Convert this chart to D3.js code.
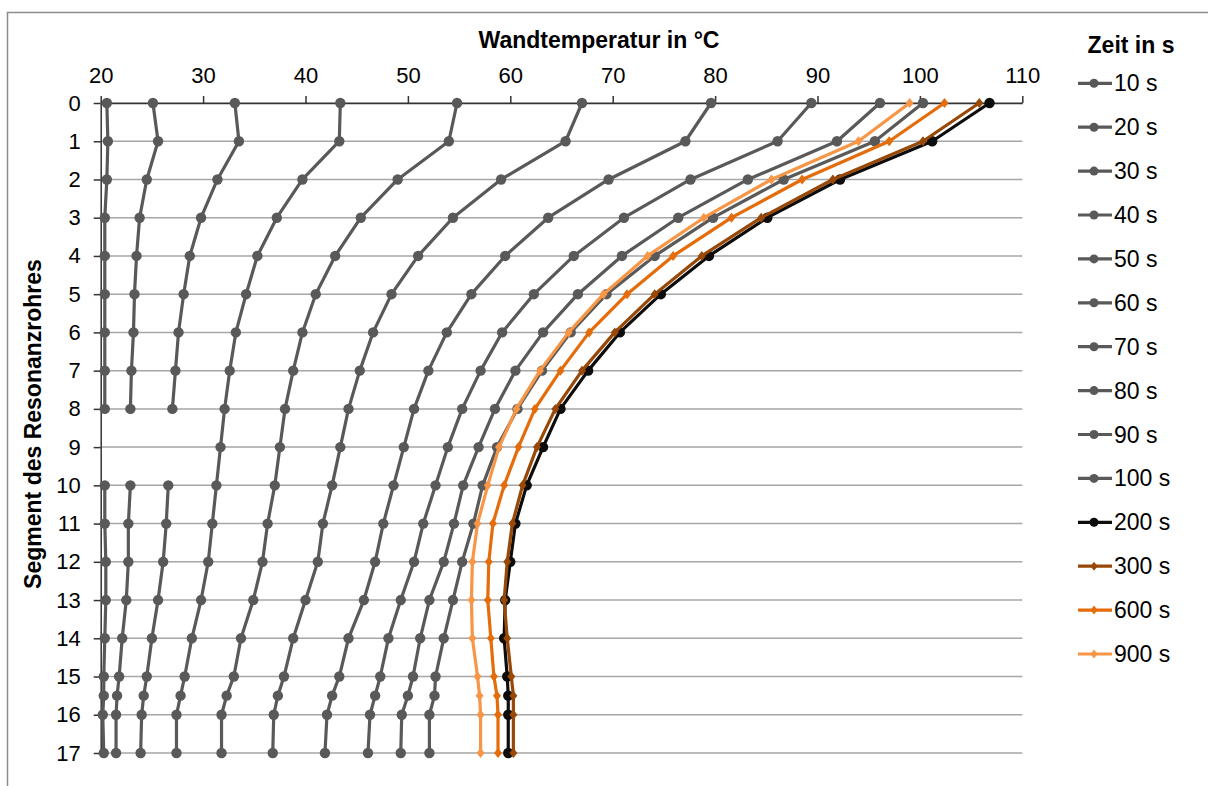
<!DOCTYPE html>
<html>
<head>
<meta charset="utf-8">
<script src="https://cdn.jsdelivr.net/npm/d3@7"></script>
<style>
  html, body { margin: 0; padding: 0; background: #fff; }
  svg { display: block; font-family: "Liberation Sans", Arial, sans-serif; }
</style>
</head>
<body>
<svg id="chart" width="1208" height="786"></svg>
<script>
// Pipe segments (15.5 is an extra measuring point between 15 and 16)
const segments = [0, 1, 2, 3, 4, 5, 6, 7, 8, 9, 10, 11, 12, 13, 14, 15, 15.5, 16, 17];
const segmentTicks = d3.range(0, 18);
const tempTicks = [20, 30, 40, 50, 60, 70, 80, 90, 100, 110];

// Wall temperature in °C per segment (null = no measurement)
const t10  = [20.6, 20.7, 20.6, 20.4, 20.4, 20.4, 20.4, 20.4, 20.4, null, 20.4, 20.4, 20.5, 20.5, 20.4, 20.3, 20.3, 20.2, 20.3];
const t20  = [25.1, 25.6, 24.5, 23.8, 23.5, 23.3, 23.2, 23.0, 22.9, null, 22.9, 22.7, 22.7, 22.5, 22.1, 21.8, 21.6, 21.5, 21.5];
const t30  = [33.1, 33.5, 31.4, 29.8, 28.7, 28.1, 27.6, 27.3, 27.0, null, 26.6, 26.4, 26.1, 25.6, 25.0, 24.5, 24.2, 24.0, 23.9];
const t40  = [43.4, 43.3, 39.7, 37.2, 35.3, 34.2, 33.2, 32.6, 32.1, 31.7, 31.3, 30.9, 30.5, 29.8, 28.9, 28.2, 27.8, 27.4, 27.4];
const t50  = [54.8, 54.0, 49.0, 45.4, 42.9, 41.0, 39.7, 38.8, 38.0, 37.5, 37.0, 36.3, 35.8, 34.9, 33.7, 33.0, 32.3, 31.8, 31.8];
const t60  = [67.0, 65.4, 59.1, 54.4, 51.0, 48.4, 46.6, 45.3, 44.2, 43.4, 42.6, 41.7, 41.2, 40.0, 38.8, 37.9, 37.3, 36.9, 36.8];
const t70  = [79.6, 77.1, 69.6, 63.7, 59.5, 56.2, 53.8, 52.0, 50.6, 49.6, 48.6, 47.6, 46.8, 45.7, 44.2, 43.3, 42.6, 42.1, 41.9];
const t80  = [89.4, 86.1, 77.6, 71.1, 66.2, 62.3, 59.2, 57.1, 55.3, 53.9, 52.7, 51.5, 50.6, 49.3, 48.1, 47.3, 46.8, 46.3, 46.1];
const t90  = [96.1, 91.9, 83.2, 76.4, 70.9, 66.6, 63.2, 60.5, 58.5, 56.9, 55.4, 54.5, 53.5, 52.1, 51.2, 50.5, 50.0, 49.4, 49.3];
const t100 = [100.3, 95.6, 86.7, 79.8, 74.1, 69.4, 65.9, 63.1, 60.7, 58.7, 57.3, 56.4, 55.3, 54.4, 53.5, 52.7, 52.6, 52.1, 52.1];
const t200 = [106.8, 101.2, 92.2, 85.1, 79.4, 74.7, 70.7, 67.6, 64.9, 63.2, 61.6, 60.5, 60.0, 59.5, 59.4, 59.7, 59.8, 59.8, 59.8];
const t300 = [105.8, 100.3, 91.5, 84.5, 78.7, 74.1, 70.2, 67.0, 64.4, 62.6, 61.2, 60.2, 59.7, 59.4, 59.7, 60.1, 60.3, 60.3, 60.3];
const t600 = [102.4, 97.0, 88.5, 81.6, 75.9, 71.4, 67.7, 64.9, 62.4, 60.8, 59.4, 58.3, 57.9, 57.8, 58.1, 58.4, 58.7, 58.8, 58.8];
const t900 = [99.0, 94.0, 85.5, 78.9, 73.4, 69.1, 65.7, 62.9, 60.6, 58.9, 57.8, 56.8, 56.3, 56.2, 56.3, 56.8, 57.0, 57.1, 57.1];

const seriesLabels = ["10 s", "20 s", "30 s", "40 s", "50 s", "60 s", "70 s", "80 s", "90 s", "100 s", "200 s", "300 s", "600 s", "900 s"];
const seriesValues = [t10, t20, t30, t40, t50, t60, t70, t80, t90, t100, t200, t300, t600, t900];
const seriesColors = ["#595959", "#595959", "#595959", "#595959", "#595959", "#595959", "#595959", "#595959", "#595959", "#595959",
                      "#0d0d0d", "#984807", "#e46c0a", "#f79646"];
const seriesMarkers = ["circle", "circle", "circle", "circle", "circle", "circle", "circle", "circle", "circle", "circle",
                       "circle", "diamond", "diamond", "diamond"];

const svg = d3.select("#chart");

// Outer chart frame
svg.append("rect")
  .attr("x", 7.5).attr("y", 12.5)
  .attr("width", 1260).attr("height", 820)
  .attr("fill", "none").attr("stroke", "#8c8c8c").attr("stroke-width", 1.5);

const x = d3.scaleLinear().domain([20, 110]).range([100.7, 1022.3]);
const y = d3.scaleLinear().domain([0, 17]).range([103, 753]);

// Horizontal gridlines
svg.append("g").selectAll("line")
  .data(segmentTicks)
  .join("line")
  .attr("x1", x(20)).attr("x2", x(110))
  .attr("y1", d => y(d)).attr("y2", d => y(d))
  .attr("stroke", "#a6a6a6").attr("stroke-width", 1.5);

// Axes
const xAxis = svg.append("g")
  .attr("transform", `translate(0,${y(0)})`)
  .call(d3.axisTop(x).tickValues(tempTicks).tickSize(7).tickSizeOuter(0).tickPadding(13));
const yAxis = svg.append("g")
  .attr("transform", `translate(${x(20)},0)`)
  .call(d3.axisLeft(y).tickValues(segmentTicks).tickSize(7).tickSizeOuter(0).tickPadding(13));

[xAxis, yAxis].forEach(g => {
  g.select(".domain").attr("stroke", "#333").attr("stroke-width", 1.5);
  g.selectAll(".tick line").attr("stroke", "#333").attr("stroke-width", 1.5);
  g.selectAll(".tick text")
    .attr("fill", "#000")
    .style("font-family", "'Liberation Sans', Arial, sans-serif")
    .style("font-size", "22px");
});

// Axis titles
svg.append("text")
  .attr("x", 599).attr("y", 40)
  .attr("text-anchor", "middle").attr("dominant-baseline", "central")
  .style("font-size", "23px").style("font-weight", "bold")
  .text("Wandtemperatur in °C");

svg.append("text")
  .attr("transform", "translate(33,424) rotate(-90)")
  .attr("text-anchor", "middle").attr("dominant-baseline", "central")
  .style("font-size", "23px").style("font-weight", "bold")
  .text("Segment des Resonanzrohres");

// Marker shapes
const diamondPath = (cx, cy, w, h) => `M${cx},${cy - h}L${cx + w},${cy}L${cx},${cy + h}L${cx - w},${cy}Z`;

const line = d3.line()
  .defined(d => d.v !== null)
  .x(d => x(d.v))
  .y(d => y(d.s));

const plot = svg.append("g");
seriesValues.forEach((vals, i) => {
  const pts = segments.map((s, j) => ({ s, v: vals[j] }));
  const g = plot.append("g");
  g.append("path")
    .datum(pts)
    .attr("d", line)
    .attr("fill", "none")
    .attr("stroke", seriesColors[i])
    .attr("stroke-width", 3.2)
    .attr("stroke-linejoin", "round");
  const valid = pts.filter(d => d.v !== null);
  if (seriesMarkers[i] === "circle") {
    g.selectAll("circle").data(valid).join("circle")
      .attr("cx", d => x(d.v)).attr("cy", d => y(d.s))
      .attr("r", 5.2).attr("fill", seriesColors[i]);
  } else {
    g.selectAll("path.m").data(valid).join("path")
      .attr("class", "m")
      .attr("d", d => diamondPath(x(d.v), y(d.s), 4, 5))
      .attr("fill", seriesColors[i]);
  }
});

// Legend
svg.append("text")
  .attr("x", 1131).attr("y", 45)
  .attr("text-anchor", "middle").attr("dominant-baseline", "central")
  .style("font-size", "23px").style("font-weight", "bold")
  .text("Zeit in s");

const legend = svg.append("g");
seriesLabels.forEach((lab, i) => {
  const ly = 83.3 + i * 43.9;
  const g = legend.append("g");
  g.append("line")
    .attr("x1", 1078).attr("x2", 1112).attr("y1", ly).attr("y2", ly)
    .attr("stroke", seriesColors[i]).attr("stroke-width", 3.2);
  if (seriesMarkers[i] === "circle") {
    g.append("circle").attr("cx", 1094).attr("cy", ly).attr("r", 4.5).attr("fill", seriesColors[i]);
  } else {
    g.append("path").attr("d", diamondPath(1094, ly, 3.5, 4.5)).attr("fill", seriesColors[i]);
  }
  g.append("text")
    .attr("x", 1114).attr("y", ly)
    .attr("dominant-baseline", "central")
    .style("font-size", "23px")
    .text(lab);
});
</script>
</body>
</html>
